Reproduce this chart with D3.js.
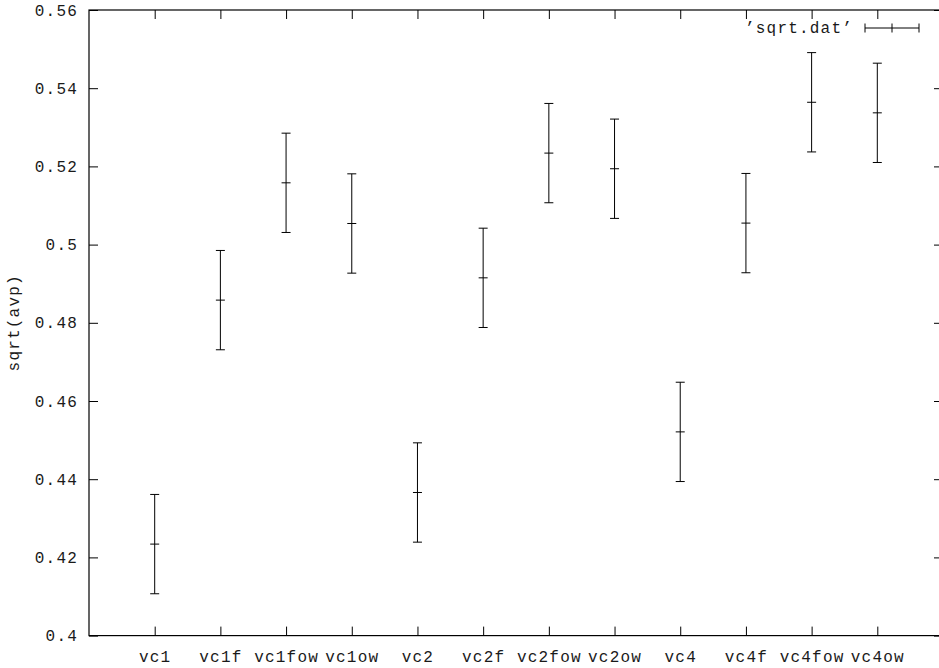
<!DOCTYPE html>
<html>
<head>
<meta charset="utf-8">
<script src="https://cdn.jsdelivr.net/npm/d3@7"></script>
<style>
  body { margin: 0; background: #fff; }
  text { font-family: "Liberation Mono", "DejaVu Sans Mono", monospace; fill: #1a1a1a; letter-spacing: 1.2px; }
</style>
</head>
<body>
<div id="chart"></div>
<script>
const categories = ["vc1", "vc1f", "vc1fow", "vc1ow", "vc2", "vc2f", "vc2fow", "vc2ow", "vc4", "vc4f", "vc4fow", "vc4ow"]
const values = [0.4234, 0.4858, 0.5158, 0.5054, 0.4366, 0.4915, 0.5234, 0.5194, 0.4521, 0.5055, 0.5364, 0.5337]
const errors = [0.0127, 0.0127, 0.0127, 0.0127, 0.0127, 0.0127, 0.0127, 0.0127, 0.0127, 0.0127, 0.0127, 0.0127]
const yTicks = [0.4, 0.42, 0.44, 0.46, 0.48, 0.5, 0.52, 0.54, 0.56]
const seriesName = "\u2019sqrt.dat\u2019"
const yLabel = "sqrt(avp)"

const WIDTH = 939, HEIGHT = 668
const MARGIN = {TOP: 10, BOTTOM: 32.4, LEFT: 89, RIGHT: -4}
const FONT = 16
const TICK = 9
const CAP = 4.5

const svg = d3.select("#chart")
    .append("svg")
    .attr("width", WIDTH)
    .attr("height", HEIGHT)

const x = d3.scaleLinear()
    .domain([-1, categories.length])
    .range([MARGIN.LEFT, WIDTH - MARGIN.RIGHT])

const y = d3.scaleLinear()
    .domain([0.4, 0.56])
    .range([HEIGHT - MARGIN.BOTTOM, MARGIN.TOP])

const idx = categories.map((d, i) => i)

// axes, ticks pointing inward
svg.append("g")
    .attr("transform", `translate(${MARGIN.LEFT},0)`)
    .call(d3.axisLeft(y).tickValues(yTicks).tickSize(-TICK).tickPadding(11).tickFormat(d3.format("~g")))
svg.append("g")
    .attr("transform", `translate(0,${y(0.4)})`)
    .call(d3.axisBottom(x).tickValues(idx).tickSize(-TICK).tickPadding(15).tickFormat(i => categories[i]))
svg.append("g")
    .attr("transform", `translate(${x.range()[1]},0)`)
    .call(d3.axisRight(y).tickValues(yTicks).tickSize(-TICK).tickFormat(""))
svg.append("g")
    .attr("transform", `translate(0,${y(0.56)})`)
    .call(d3.axisTop(x).tickValues(idx).tickSize(-TICK).tickFormat(""))

svg.selectAll(".domain").remove()
svg.selectAll(".tick line").attr("stroke", "#000")
svg.selectAll(".tick text").attr("font-size", FONT).attr("font-family", null).attr("fill", null)

// frame
svg.append("rect")
    .attr("x", x.range()[0])
    .attr("y", y(0.56))
    .attr("width", x.range()[1] - x.range()[0])
    .attr("height", y(0.4) - y(0.56))
    .attr("fill", "none")
    .attr("stroke", "#000")
    .attr("stroke-width", 1.2)

// y label
svg.append("text")
    .attr("transform", `translate(19,${(y(0.4) + y(0.56)) / 2}) rotate(-90)`)
    .attr("text-anchor", "middle")
    .attr("font-size", FONT)
    .text(yLabel)

// error bars
const data = categories.map((c, i) => ({i, v: values[i], e: errors[i]}))
const bars = svg.append("g").attr("stroke", "#000").attr("stroke-width", 1)
    .selectAll("g").data(data).enter().append("g")

bars.append("line")
    .attr("x1", d => x(d.i)).attr("x2", d => x(d.i))
    .attr("y1", d => y(d.v - d.e)).attr("y2", d => y(d.v + d.e))
bars.append("line")
    .attr("x1", d => x(d.i) - CAP).attr("x2", d => x(d.i) + CAP)
    .attr("y1", d => y(d.v + d.e)).attr("y2", d => y(d.v + d.e))
bars.append("line")
    .attr("x1", d => x(d.i) - CAP).attr("x2", d => x(d.i) + CAP)
    .attr("y1", d => y(d.v - d.e)).attr("y2", d => y(d.v - d.e))
bars.append("line")
    .attr("x1", d => x(d.i) - CAP).attr("x2", d => x(d.i) + CAP)
    .attr("y1", d => y(d.v)).attr("y2", d => y(d.v))

// legend
const ly = 28
const legend = svg.append("g")
legend.append("text")
    .attr("x", 853).attr("y", ly)
    .attr("dy", "0.32em")
    .attr("text-anchor", "end")
    .attr("font-size", FONT)
    .text(seriesName)
const lg = legend.append("g").attr("stroke", "#000").attr("stroke-width", 1)
lg.append("line").attr("x1", 865).attr("x2", 919).attr("y1", ly).attr("y2", ly)
lg.append("line").attr("x1", 865).attr("x2", 865).attr("y1", ly - CAP).attr("y2", ly + CAP)
lg.append("line").attr("x1", 919).attr("x2", 919).attr("y1", ly - CAP).attr("y2", ly + CAP)
lg.append("line").attr("x1", 892).attr("x2", 892).attr("y1", ly - CAP).attr("y2", ly + CAP)
</script>
</body>
</html>
